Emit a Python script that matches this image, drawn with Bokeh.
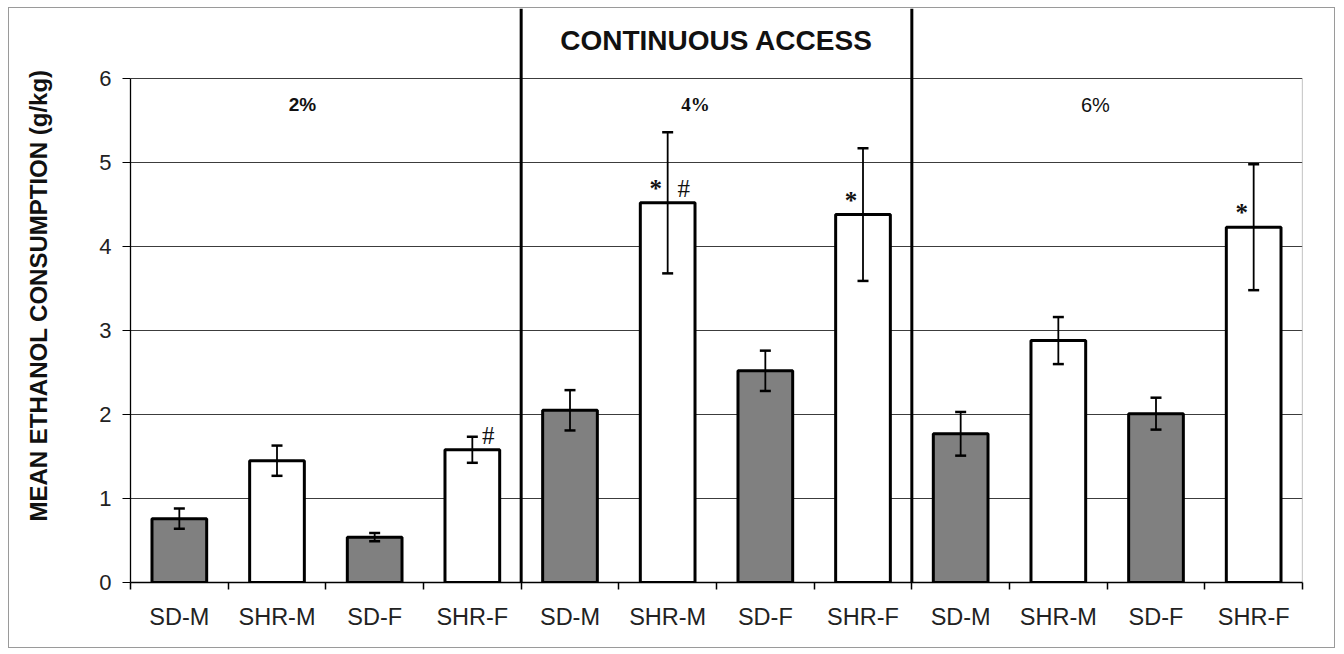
from bokeh.plotting import figure
from bokeh.models import ColumnDataSource, FixedTicker, Whisker, TeeHead, Label
from bokeh.core.properties import value
from bokeh.embed import file_html
from bokeh.resources import INLINE

# ---------------- data ----------------
groups = ["SD-M", "SHR-M", "SD-F", "SHR-F"]
concentrations = ["2%", "4%", "6%"]
mean_2 = [0.76, 1.45, 0.54, 1.58]
sem_2 = [0.12, 0.18, 0.05, 0.155]
mean_4 = [2.05, 4.52, 2.52, 4.38]
sem_4 = [0.24, 0.84, 0.24, 0.79]
mean_6 = [1.77, 2.88, 2.01, 4.23]
sem_6 = [0.26, 0.28, 0.19, 0.75]
# significance marks placed above bars
star_2 = ["", "", "", ""]
star_4 = ["", "*", "", "*"]
star_6 = ["", "", "", "*"]
hash_2 = ["", "", "", "#"]
hash_4 = ["", "#", "", ""]
hash_6 = ["", "", "", ""]
y_ticks = [0, 1, 2, 3, 4, 5, 6]
title_text = "CONTINUOUS ACCESS"
y_label = "MEAN ETHANOL CONSUMPTION (g/kg)"

means = [mean_2, mean_4, mean_6]
sems = [sem_2, sem_4, sem_6]
stars = [star_2, star_4, star_6]
hashes = [hash_2, hash_4, hash_6]

xs, tops, ups, lows, fills = [], [], [], [], []
sx, sy, st = [], [], []
hx, hy, ht = [], [], []
for ci in range(len(concentrations)):
    for gi, g in enumerate(groups):
        x = ci * len(groups) + gi + 0.5
        m = means[ci][gi]
        e = sems[ci][gi]
        xs.append(x)
        tops.append(m)
        ups.append(m + e)
        lows.append(m - e)
        fills.append("#808080" if g.startswith("SD") else "white")
        if stars[ci][gi]:
            sx.append(x); sy.append(m); st.append(stars[ci][gi])
        if hashes[ci][gi]:
            hx.append(x); hy.append(m); ht.append(hashes[ci][gi])

n = len(xs)
src = ColumnDataSource(dict(x=xs, top=tops, upper=ups, lower=lows, fill=fills))

Y_TOP = 6.833
p = figure(width=1327, height=641, output_backend="svg", toolbar_location=None,
           x_range=(0, n), y_range=(0, Y_TOP),
           min_border_left=121, min_border_right=34, min_border_top=0,
           min_border_bottom=67)
p.styles = {"border": "1px solid #9a9a9a", "margin-left": "8px", "margin-top": "7px"}
p.outline_line_color = None
p.background_fill_color = "white"
p.border_fill_color = "white"

# grid
p.xgrid.grid_line_color = None
p.ygrid.grid_line_color = "#3c3c3c"
p.ygrid.grid_line_width = 1.2

# y axis
p.yaxis.ticker = FixedTicker(ticks=y_ticks)
p.yaxis.bounds = (0, 6)
p.yaxis.axis_line_color = "black"
p.yaxis.axis_line_width = 1.3
p.yaxis.major_tick_out = 8
p.yaxis.major_tick_in = 0
p.yaxis.major_tick_line_color = "black"
p.yaxis.minor_tick_line_color = None
p.yaxis.major_label_text_font = "Liberation Sans"
p.yaxis.major_label_text_font_size = "22px"
p.yaxis.major_label_text_color = "#222222"
p.yaxis.major_label_standoff = 11
p.yaxis.axis_label = y_label
p.yaxis.axis_label_text_font = "Liberation Sans"
p.yaxis.axis_label_text_font_style = "bold"
p.yaxis.axis_label_text_font_size = "24px"
p.yaxis.axis_label_text_color = "#111111"
p.yaxis.axis_label_standoff = 44

# x axis
p.xaxis.ticker = FixedTicker(ticks=xs, minor_ticks=list(range(n + 1)))
p.xaxis.major_label_overrides = {x: groups[i % len(groups)] for i, x in enumerate(xs)}
p.xaxis.major_tick_line_color = None
p.xaxis.major_tick_out = 7
p.xaxis.minor_tick_line_color = "black"
p.xaxis.minor_tick_line_width = 1.5
p.xaxis.minor_tick_out = 7
p.xaxis.minor_tick_in = 0
p.xaxis.axis_line_color = "black"
p.xaxis.axis_line_width = 1.6
p.xaxis.major_label_text_font = "Liberation Sans"
p.xaxis.major_label_text_font_size = "23.5px"
p.xaxis.major_label_text_color = "#222222"
p.xaxis.major_label_standoff = 14

# right border of plot area
p.segment(x0=[n], y0=[0], x1=[n], y1=[6], line_color="#9a9a9a", line_width=1.2)

# bars
p.vbar(x="x", top="top", width=0.56, bottom=0, fill_color="fill",
       line_color="black", line_width=3, source=src)

# error bars (drawn over the bars)
p.add_layout(Whisker(base="x", upper="upper", lower="lower", source=src,
                     level="annotation", line_color="black", line_width=1.8,
                     upper_head=TeeHead(size=11, line_width=2.5, line_color="black"),
                     lower_head=TeeHead(size=11, line_width=2.5, line_color="black")))

# section separators
seps = [len(groups) * k for k in range(1, len(concentrations))]
p.segment(x0=seps, y0=[0] * len(seps), x1=seps, y1=[Y_TOP] * len(seps),
          line_color="black", line_width=3)

# significance marks
p.text(x=sx, y=[v + 0.17 for v in sy], text=st, x_offset=-12,
       text_font=value("Liberation Serif"), text_font_size="25px",
       text_font_style="bold", text_align="center", text_baseline="middle",
       text_color="#111111")
p.text(x=hx, y=[v + 0.17 for v in hy], text=ht, x_offset=16,
       text_font=value("Liberation Serif"), text_font_size="25px",
       text_align="center", text_baseline="middle", text_color="#111111")

# concentration labels
conc_x = [1.76, 5.785, 9.88]
conc_fonts = ["Liberation Sans", "Liberation Serif", "Liberation Sans"]
conc_styles = ["bold", "bold", "normal"]
conc_sizes = ["19px", "19px", "20px"]
for i, c in enumerate(concentrations):
    p.add_layout(Label(x=conc_x[i], y=5.69, text=c, text_font=conc_fonts[i],
                       text_font_style=conc_styles[i], text_font_size=conc_sizes[i],
                       text_align="center", text_baseline="middle",
                       text_color="#111111"))

# header
p.add_layout(Label(x=6, y=6.45, text=title_text, text_font="Liberation Sans",
                   text_font_style="bold", text_font_size="28px",
                   text_align="center", text_baseline="middle", text_color="#111111"))

open("out.html", "w").write(file_html(p, INLINE))
